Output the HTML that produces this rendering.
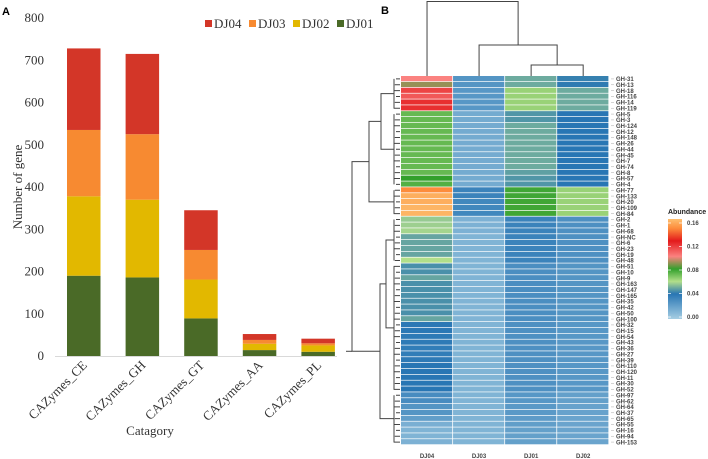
<!DOCTYPE html>
<html><head><meta charset="utf-8"><style>
body{margin:0;background:#fff;}
svg{display:block;}
</style></head><body>
<svg id="chart" width="708" height="459" xmlns="http://www.w3.org/2000/svg">
<text x="2" y="15" font-family="Liberation Sans, sans-serif" font-weight="bold" font-size="11">A</text>
<text x="381" y="14" font-family="Liberation Sans, sans-serif" font-weight="bold" font-size="11">B</text>
<g id="barChart"></g>
<g id="heat"></g>
</svg>
<script>
const NS="http://www.w3.org/2000/svg";
// ---- Bar chart data ----
const categories=["CAZymes_CE","CAZymes_GH","CAZymes_GT","CAZymes_AA","CAZymes_PL"];
const seriesNames=["DJ01","DJ02","DJ03","DJ04"];
const dj01=[190,186,89,14,10];
const dj02=[188,184,92,15,15];
const dj03=[157,155,70,9,5];
const dj04=[193,190,94,14,11];
const yTicks=[0,100,200,300,400,500,600,700,800];
// ---- Heatmap data ----
const rowLabels=["GH-31","GH-13","GH-18","GH-116","GH-14","GH-119","GH-5","GH-3","GH-124","GH-12","GH-148","GH-26","GH-44","GH-45","GH-7","GH-74","GH-8","GH-57","GH-4","GH-77","GH-133","GH-20","GH-109","GH-84","GH-2","GH-1","GH-68","GH-NC","GH-6","GH-23","GH-19","GH-48","GH-51","GH-10","GH-9","GH-163","GH-147","GH-165","GH-35","GH-42","GH-50","GH-100","GH-32","GH-15","GH-54","GH-43","GH-36","GH-27","GH-39","GH-110","GH-120","GH-11","GH-30","GH-52","GH-97","GH-62","GH-64","GH-37","GH-65","GH-55","GH-16","GH-94","GH-153"];
const colLabels=["DJ04","DJ03","DJ01","DJ02"];
const hDJ04=[0.10,0.09,0.115,0.11,0.12,0.12, 0.072,0.072,0.072,0.072,0.072,0.072,0.072,0.072,0.072,0.072,0.072,0.08,0.075, 0.145,0.155,0.155,0.157,0.157, 0.056,0.057,0.058,0.049,0.049,0.049,0.049,0.06, 0.045,0.045,0.049,0.045,0.045,0.045,0.045,0.045,0.045,0.049,0.039,0.039,0.038,0.038,0.037,0.037,0.038,0.04,0.04,0.04,0.04,0.04, 0.03,0.03,0.026,0.026,0.022,0.014,0.012,0.012,0.013];
const hDJ03=[0.026,0.026,0.025,0.025,0.025,0.025, 0.016,0.016,0.016,0.016,0.016,0.016,0.016,0.016,0.016,0.016,0.016,0.016,0.016, 0.034,0.034,0.032,0.032,0.032, 0.013,0.013,0.013,0.012,0.012,0.012,0.012,0.012, 0.012,0.012,0.012,0.012,0.012,0.012,0.012,0.012,0.012,0.012,0.012,0.012,0.012,0.012,0.012,0.012,0.012,0.012,0.012,0.012,0.012,0.012, 0.012,0.012,0.012,0.012,0.012,0.012,0.012,0.012,0.012];
const hDJ01=[0.05,0.05,0.064,0.064,0.064,0.064, 0.046,0.046,0.05,0.05,0.05,0.05,0.05,0.05,0.05,0.05,0.048,0.046,0.046, 0.078,0.078,0.078,0.078,0.078, 0.034,0.034,0.034,0.034,0.034,0.034,0.034,0.034, 0.029,0.029,0.029,0.029,0.029,0.029,0.029,0.029,0.029,0.029,0.028,0.028,0.028,0.028,0.028,0.028,0.028,0.028,0.028,0.028,0.028,0.028, 0.025,0.025,0.024,0.024,0.023,0.022,0.021,0.021,0.021];
const hDJ02=[0.042,0.041,0.05,0.05,0.05,0.05, 0.04,0.04,0.04,0.04,0.04,0.04,0.04,0.04,0.04,0.04,0.04,0.04,0.04, 0.064,0.064,0.064,0.064,0.064, 0.028,0.028,0.028,0.028,0.028,0.028,0.028,0.028, 0.026,0.026,0.026,0.026,0.026,0.026,0.026,0.026,0.026,0.026,0.025,0.025,0.025,0.025,0.025,0.025,0.025,0.025,0.025,0.025,0.025,0.025, 0.021,0.021,0.02,0.02,0.019,0.019,0.019,0.019,0.019];
const legendTicks=[0,0.04,0.08,0.12,0.16];

function el(tag,attrs,parent){const e=document.createElementNS(NS,tag);for(const k in attrs)e.setAttribute(k,attrs[k]);parent.appendChild(e);return e;}

// ---- Bar chart ----
const bc=document.getElementById('barChart');
const y0=356,pxPer=(356-18)/800;
const yS=v=>y0-v*pxPer;
const bandL=55,bandW=58.6;
const xS=i=>bandL+i*bandW+12;
const barW=33.5;
const serData=[dj01,dj02,dj03,dj04];
const serCol=["#4a6a27","#e2b800","#f78a31","#d33628"];
yTicks.forEach(t=>{
  const tx=el('text',{x:44,y:yS(t)+4,'text-anchor':'end','font-family':'Liberation Serif, serif','font-size':'13',fill:'#333'},bc);
  tx.textContent=t;
  
  
});
const ax=el('line',{x1:55,y1:356.5,x2:337,y2:356.5,stroke:'#d9d9d9','stroke-width':1},bc);


categories.forEach((c,i)=>{
  let cum=0;
  serData.forEach((s,j)=>{
    const v=s[i];
    const r=el('rect',{x:xS(i),y:yS(cum+v),width:barW,height:v*pxPer,fill:serCol[j]},bc);
    
    
    cum+=v;
  });
  const cx=xS(i)+barW/2+4;
  const t=el('text',{x:cx,y:366,'text-anchor':'end','font-family':'Liberation Serif, serif','font-size':'13',fill:'#333',transform:`rotate(-45 ${cx} 366)`},bc);
  t.textContent=c;
  
  
});
const yt=el('text',{x:22,y:187,'text-anchor':'middle','font-family':'Liberation Serif, serif','font-size':'13',fill:'#333',transform:'rotate(-90 22 187)'},bc);
yt.textContent='Number of gene';


const xt=el('text',{x:150,y:435,'text-anchor':'middle','font-family':'Liberation Serif, serif','font-size':'13',fill:'#333'},bc);
xt.textContent='Catagory';


const legX=[205,249,293,337];
[3,2,1,0].forEach((j,k)=>{
  const r=el('rect',{x:legX[k],y:20,width:7,height:7,fill:serCol[j]},bc);
  
  
  const t=el('text',{x:legX[k]+9,y:28,'font-family':'Liberation Serif, serif','font-size':'13',fill:'#333'},bc);
  t.textContent=seriesNames[j];
  
  
});

// ---- Heatmap ----
const hm=document.getElementById('heat');
const stops=[[0,[166,206,227]],[0.04,[40,118,180]],[0.06,[178,223,138]],[0.08,[51,160,44]],[0.10,[251,130,128]],[0.125,[227,26,28]],[0.145,[253,140,60]],[0.16,[253,191,111]]];
function cmap(v){
  if(v<=stops[0][0])return `rgb(${stops[0][1]})`;
  for(let i=1;i<stops.length;i++){
    if(v<=stops[i][0]){const a=stops[i-1],b=stops[i];const t=(v-a[0])/(b[0]-a[0]);
      return 'rgb('+a[1].map((c,k)=>Math.round(c+(b[1][k]-c)*t)).join(',')+')';}
  }
  return `rgb(${stops[stops.length-1][1]})`;
}
const hx0=401,cw=52.05,hy0=76,rh=(445-76)/rowLabels.length;
const cols=[hDJ04,hDJ03,hDJ01,hDJ02];
cols.forEach((arr,j)=>{
  arr.forEach((v,i)=>{
    const r=el('rect',{x:hx0+j*cw,y:hy0+i*rh,width:cw-0.8,height:rh-0.7,fill:cmap(v)},hm);
    
    
  });
  const t=el('text',{x:hx0+j*cw+cw/2,y:458,'text-anchor':'middle','font-family':'Liberation Sans, sans-serif','font-size':'6','font-weight':'bold',fill:'#444'},hm);
  t.textContent=colLabels[j];
  
  
});
rowLabels.forEach((l,i)=>{
  const yy=hy0+i*rh+rh/2;
  el('line',{x1:611,y1:yy,x2:614,y2:yy,stroke:'#aaa','stroke-width':0.5},hm);
  const t=el('text',{x:616,y:yy+2.2,'font-family':'Liberation Sans, sans-serif','font-size':'6','font-weight':'bold',fill:'#444'},hm);
  t.textContent=l;
  
  
});
// column dendrogram
const cc=j=>hx0+j*cw+cw/2;
const dp="#444";
function pth(d,name){const p=el('path',{d:d,stroke:dp,fill:'none','stroke-width':1},hm);}
pth(`M${cc(2)},76V65H${cc(3)}V76`,'column-dendrogram');
const m23=(cc(2)+cc(3))/2;
pth(`M${cc(1)},76V45H${m23}V65`,'column-dendrogram');
const m123=(cc(1)+m23)/2;
pth(`M${cc(0)},76V1.5H${m123}V45`,'column-dendrogram');
// row dendrogram (approximate)
const ry=i=>hy0+i*rh+rh/2;
const groups=[[0,5],[6,18],[19,23],[24,31],[32,53],[54,62]];
const gmid=groups.map(g=>(ry(g[0])+ry(g[1]))/2);
groups.forEach((g,k)=>{
  let d='';
  for(let i=g[0];i<=g[1];i++){d+=`M400,${ry(i)}H${396-(i%3)*1.2}`;}
  d+=`M${394},${ry(g[0])}V${ry(g[1])}`;
  pth(d,'row-dendrogram');
});
pth(`M394,${gmid[0]}H381V${gmid[1]}H394`,'row-dendrogram');
const ab=(gmid[0]+gmid[1])/2;
pth(`M381,${ab}H369V${gmid[2]}H394`,'row-dendrogram');
const abc=(ab+gmid[2])/2;
pth(`M394,${gmid[3]}H386V${gmid[4]}H394`,'row-dendrogram');
const de=(gmid[3]+gmid[4])/2;
pth(`M386,${de}H380V${gmid[5]}H394`,'row-dendrogram');
const def=(de+gmid[5])/2;
pth(`M369,${abc}H352V${def}H380`,'row-dendrogram');
pth(`M352,${def}H346`,'row-dendrogram');
// legend
const defs=el('defs',{},hm);
const lg=el('linearGradient',{id:'lg',x1:0,y1:1,x2:0,y2:0},defs);
stops.forEach(s=>el('stop',{offset:s[0]/0.16,'stop-color':`rgb(${s[1]})`},lg));
const lb=el('rect',{x:668,y:219,width:14,height:100,fill:'url(#lg)'},hm);


const lt=el('text',{x:668,y:214,'font-family':'Liberation Sans, sans-serif','font-size':'7','font-weight':'bold',fill:'#222'},hm);
lt.textContent='Abundance';


legendTicks.forEach(v=>{
  const yy=317-v/0.16*94;
  el('line',{x1:668,y1:yy,x2:671,y2:yy,stroke:'#fff','stroke-width':0.7},hm);
  el('line',{x1:679,y1:yy,x2:682,y2:yy,stroke:'#fff','stroke-width':0.7},hm);
  const t=el('text',{x:687,y:yy+2,'font-family':'Liberation Sans, sans-serif','font-size':'6','font-weight':'bold',fill:'#444'},hm);
  t.textContent=v.toFixed(2);
  
  
});
</script>
</body></html>
